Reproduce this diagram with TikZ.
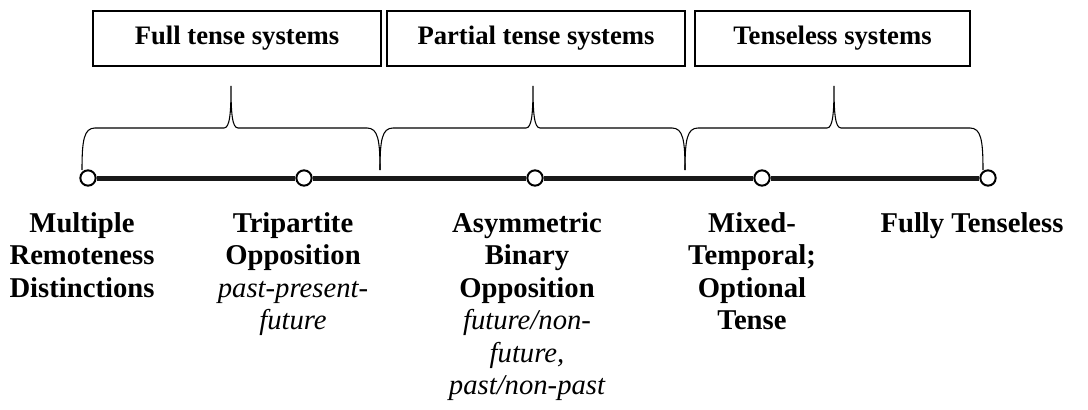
\documentclass[tikz,border=0pt]{standalone}
\usepackage{fontspec}
\setmainfont{Liberation Serif}
\usetikzlibrary{arrows}

\newcommand{\gloss}[1]{{\normalfont\itshape #1}}
% upward curly brace: left end, right end, tip
\newcommand{\tensebrace}[3]{%
  \draw[brace] (#1,170) .. controls (#1,140) and (#1+2,128) .. (#1+13,128)
    -- (#3-7,128) .. controls (#3-1,128) and (#3,112) .. (#3,86)
    .. controls (#3,112) and (#3+1,128) .. (#3+7,128)
    -- (#2-13,128) .. controls (#2-2,128) and (#2,140) .. (#2,170);}

\tikzset{
  stage/.style={draw,line width=1.2pt,minimum height=41.25pt,inner sep=0pt,
    font=\fontsize{20}{22}\selectfont\bfseries},
  dot/.style={circle,draw,fill=white,line width=1.5pt,minimum size=11.5pt,inner sep=0pt},
  axis/.style={line width=3.75pt,color=black!90},
  brace/.style={line width=0.8pt},
  lab/.style={anchor=north,align=center,inner sep=0pt,
    font=\fontsize{21.5}{24.4}\selectfont\bfseries}
}

\begin{document}
\begin{tikzpicture}[x=0.75pt,y=-0.75pt]
\useasboundingbox (0,0) rectangle (1088,410);

\node[stage,minimum width=216pt] (full) at (237,38.5) {Full tense systems};
\node[stage,minimum width=223.5pt] (partial) at (536,38.5) {Partial tense systems};
\node[stage,minimum width=206.25pt] (less) at (832.5,38.5) {Tenseless systems};

\tensebrace{82}{380}{231}
\tensebrace{380}{685}{533}
\tensebrace{685}{983}{834}

\foreach \i/\x in {1/88,2/304,3/535,4/762,5/988}
  \node[dot] (p\i) at (\x,178) {};
\foreach \a/\b in {1/2,2/3,3/4,4/5}
  \draw[axis] (p\a) -- (p\b);

\node[lab] (remote) at (82,212) {Multiple\\Remoteness\\Distinctions};
\node[lab] (tri) at (293,212) {Tripartite\\Opposition\\\gloss{past-present-}\\\gloss{future}};
\node[lab] (asym) at (527,212) {Asymmetric\\Binary\\Opposition\\\gloss{future/non-}\\\gloss{future,}\\\gloss{past/non-past}};
\node[lab] (mixed) at (752,212) {Mixed-\\Temporal;\\Optional\\Tense};
\node[lab] (fully) at (972,212) {Fully Tenseless};

\end{tikzpicture}
\end{document}
